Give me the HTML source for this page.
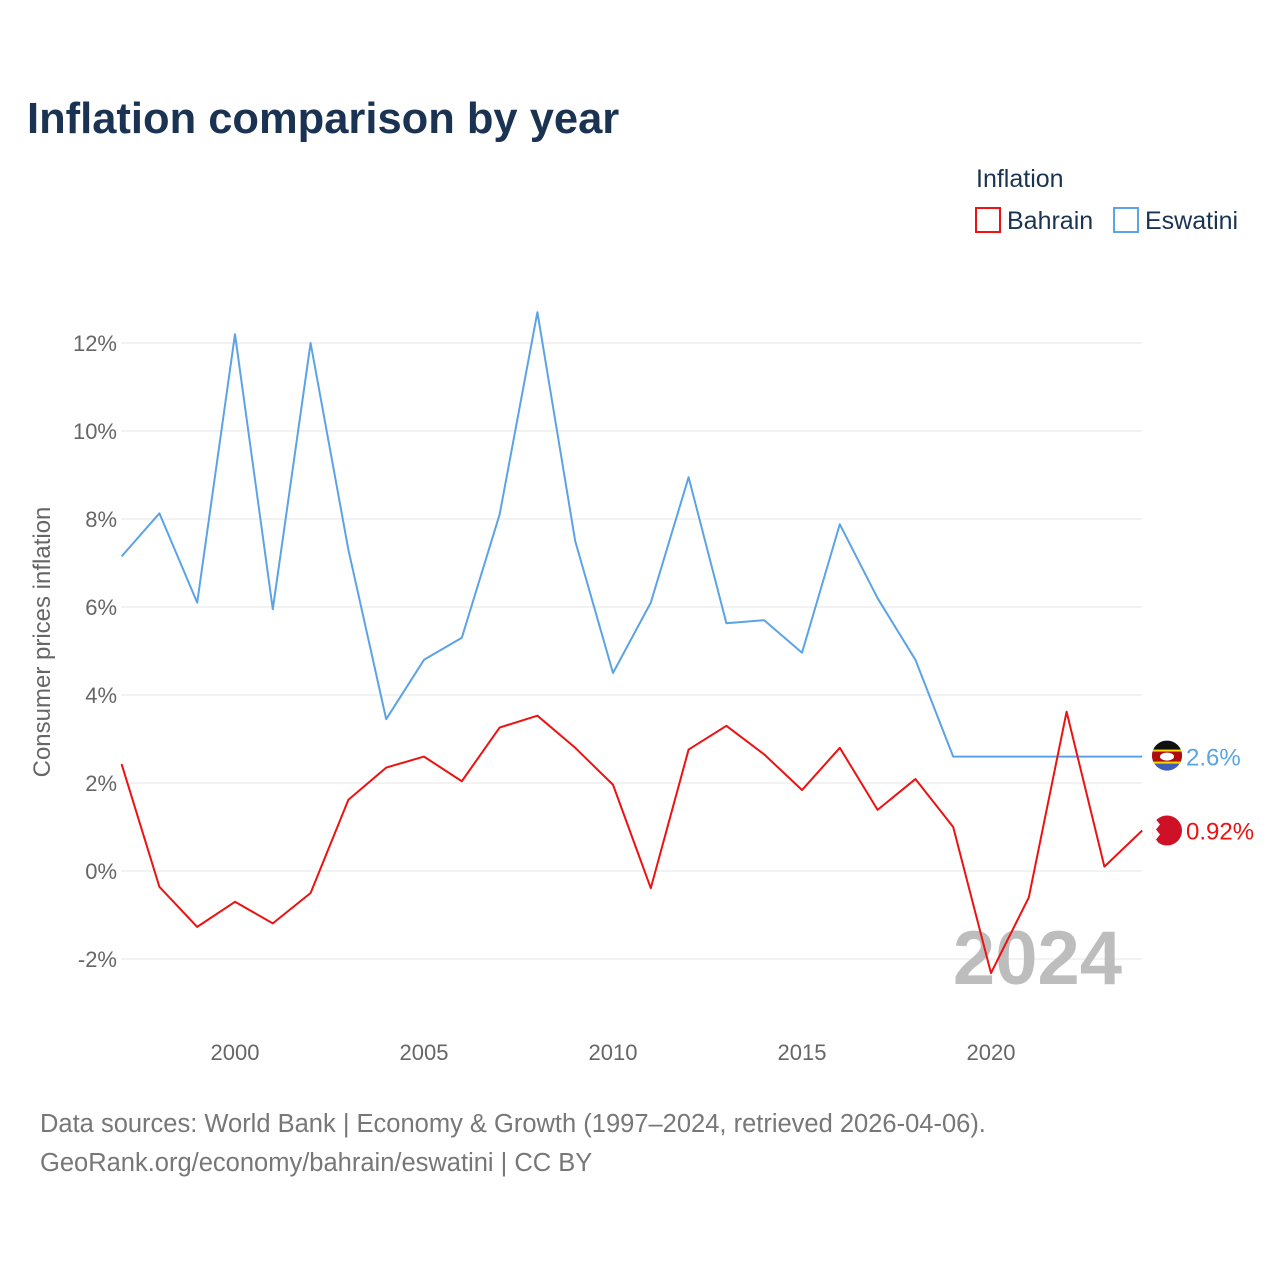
<!DOCTYPE html>
<html><head><meta charset="utf-8">
<style>
body{margin:0;background:#fff;font-family:"Liberation Sans",sans-serif;}
svg text{font-family:"Liberation Sans",sans-serif;}
</style></head>
<body>
<svg id="chart" width="1280" height="1280" xmlns="http://www.w3.org/2000/svg">
<defs>
<clipPath id="c1"><circle cx="1167" cy="755.6" r="15"/></clipPath>
<clipPath id="c2"><circle cx="1167" cy="830.5" r="15"/></clipPath>
</defs>
<text x="27" y="133" font-size="43.5" font-weight="bold" fill="#1a3352">Inflation comparison by year</text>
<text x="976" y="187" font-size="25" fill="#1a3352">Inflation</text>
<g>
<rect x="976" y="208" width="24" height="24" fill="none" stroke="#ee1111" stroke-width="2"/>
<text x="1007" y="229" font-size="25" fill="#1a3352">Bahrain</text></g>
<g>
<rect x="1114" y="208" width="24" height="24" fill="none" stroke="#5ba3e6" stroke-width="2"/>
<text x="1145" y="229" font-size="25" fill="#1a3352">Eswatini</text></g>
<text transform="translate(50,642) rotate(-90)" text-anchor="middle" font-size="24" fill="#666">Consumer prices inflation</text>
<g id="grid"></g>
<g id="yticks"></g>
<g id="xticks"></g>
<text x="1122" y="984" text-anchor="end" font-size="76" font-weight="bold" fill="#bdbdbd">2024</text>
<g id="series"></g>
<text x="40" y="1132" font-size="25.5" fill="#777">Data sources: World Bank | Economy &amp; Growth (1997–2024, retrieved 2026-04-06).</text>
<text x="40" y="1171" font-size="25.5" fill="#777">GeoRank.org/economy/bahrain/eswatini | CC BY</text>
</svg>
<script>
const years=[1997,1998,1999,2000,2001,2002,2003,2004,2005,2006,2007,2008,2009,2010,2011,2012,2013,2014,2015,2016,2017,2018,2019,2020,2021,2022,2023,2024];
const eswatini=[7.15,8.13,6.1,12.2,5.95,12.0,7.3,3.45,4.8,5.3,8.1,12.7,7.5,4.5,6.1,8.95,5.63,5.7,4.96,7.88,6.2,4.8,2.6,2.6,2.6,2.6,2.6,2.6];
const bahrain=[2.43,-0.36,-1.27,-0.7,-1.19,-0.5,1.62,2.35,2.6,2.04,3.26,3.53,2.8,1.96,-0.39,2.76,3.3,2.65,1.84,2.8,1.39,2.09,1.0,-2.32,-0.6,3.62,0.1,0.92];
const yTicks=[-2,0,2,4,6,8,10,12];
const xTicks=[2000,2005,2010,2015,2020];
const NS="http://www.w3.org/2000/svg";
const x=v=>121.6+(v-1997)*37.8;
const y=v=>871-v*44;
function mk(tag,attrs,parent){const e=document.createElementNS(NS,tag);for(const k in attrs)e.setAttribute(k,attrs[k]);parent.appendChild(e);return e;}
const grid=document.getElementById('grid'),yt=document.getElementById('yticks'),xt=document.getElementById('xticks'),ser=document.getElementById('series');
yTicks.forEach(t=>{
 const l=mk('line',{x1:121,x2:1142,y1:y(t),y2:y(t),stroke:'#e6e6e6','stroke-width':1},grid);
 
 
 const tx=mk('text',{x:117,y:y(t)+8,'text-anchor':'end','font-size':22,fill:'#666'},yt);
 tx.textContent=t+'%';
 
 
});
xTicks.forEach(t=>{
 const tx=mk('text',{x:x(t),y:1060,'text-anchor':'middle','font-size':22,fill:'#666'},xt);
 tx.textContent=t;
 
 
});
function line(vals,color,name){
 const p=mk('polyline',{points:vals.map((v,i)=>x(years[i])+','+y(v)).join(' '),fill:'none',stroke:color,'stroke-width':2,'stroke-linejoin':'round'},ser);
 
 
}
line(eswatini,'#5ba3e6','eswatini-line');
line(bahrain,'#ee1111','bahrain-line');
function endLabel(vals,color,label,name,flag){
 const v=vals[vals.length-1],cy=y(v);
 const g=mk('g',{},ser);
 
 
 if(flag==='sz'){
  const f=mk('g',{'clip-path':'url(#c1)'},g);
  mk('rect',{x:1150,y:cy-16,width:34,height:32,fill:'#3e5eb9'},f);
  mk('rect',{x:1150,y:cy-16,width:34,height:9,fill:'#111'},f);
  mk('rect',{x:1150,y:cy-7,width:34,height:2,fill:'#ffd900'},f);
  mk('rect',{x:1150,y:cy-5,width:34,height:10,fill:'#b10c0c'},f);
  mk('rect',{x:1150,y:cy+5,width:34,height:2,fill:'#ffd900'},f);
  mk('ellipse',{cx:1167,cy:cy,rx:7,ry:4,fill:'#fff'},f);
 } else {
  const f=mk('g',{'clip-path':'url(#c2)'},g);
  mk('rect',{x:1150,y:cy-16,width:34,height:32,fill:'#ce1126'},f);
  mk('path',{d:`M1150 ${cy-16}h10l-4 5 4 5 -4 5 4 5 -4 5 4 5 -4 5h-10z`,fill:'#fff'},f);
 }
 const t=mk('text',{x:1186,y:cy+9,'font-size':24,fill:color},g);
 t.textContent=label;
}
endLabel(eswatini,'#5ba3e6','2.6%','eswatini-end-label','sz');
endLabel(bahrain,'#ee1111','0.92%','bahrain-end-label','bh');
</script>
</body></html>
